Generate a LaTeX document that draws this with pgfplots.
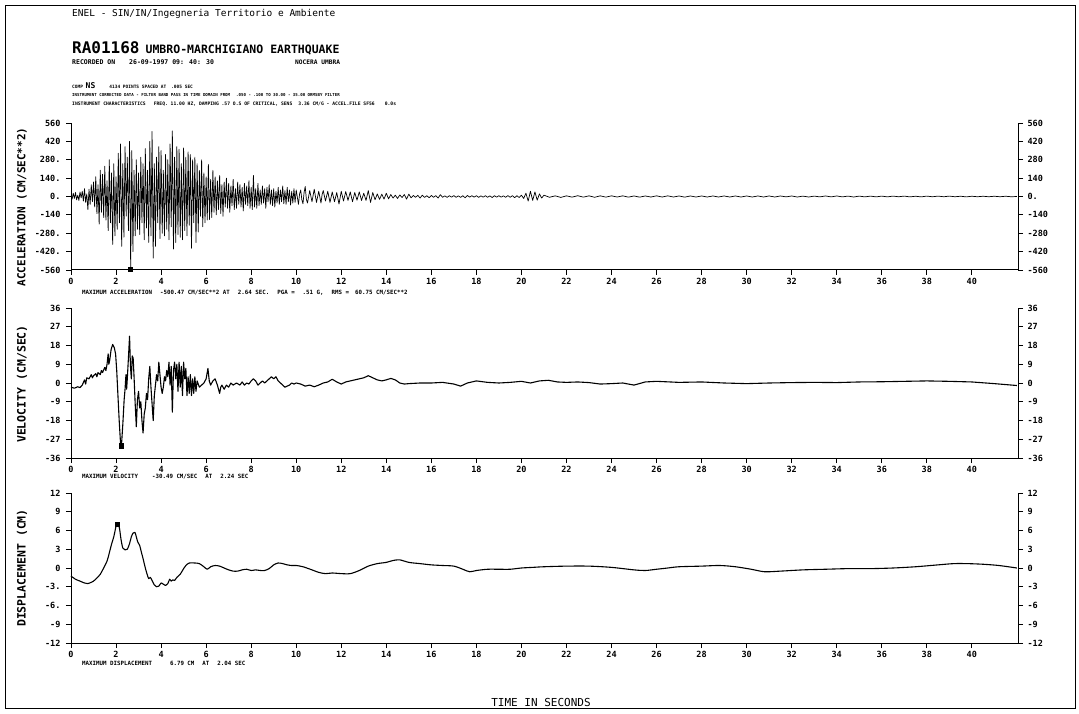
\documentclass[border=0pt]{standalone}
\usepackage{fontspec}
\setmainfont{DejaVu Sans Mono}
\usepackage{pgfplots}
\pgfplotsset{compat=1.18}
\newcommand{\gap}[1]{\hspace*{#1}}
\pgfplotsset{
  base/.style={scale only axis, width=947pt, xmin=0, xmax=42.05, clip=false,
    tick align=outside, major tick length=5pt,
    every tick/.style={black, line width=0.8pt},
    axis line style={black, line width=1pt},
    tick label style={font=\bfseries\fontsize{8.5}{9}\selectfont},
  },
  leftax/.style={base, axis x line*=bottom, axis y line*=left,
    xtick={0,2,...,40},
    xticklabels={0,2,4,6,8,10,12,14,16,18,20,22,24,26,28,30,32,34,36,38,40},
    yticklabel style={xshift=-2pt},
  },
  rightax/.style={base, axis y line*=right, axis x line=none, xtick=\empty,
    yticklabel style={xshift=1pt},
  },
  trace/.style={black, line width=1.1pt, line join=round},
}
\begin{document}
\begin{tikzpicture}
\path (0pt,0pt) rectangle (1079pt,713pt);
\draw[line width=1pt] (5pt,5pt) rectangle (1075pt,707pt);

% ---------- header ----------
\node[anchor=west, inner sep=0pt, font=\fontsize{9.5}{10}\selectfont] at (72pt,699pt) {ENEL - SIN/IN/Ingegneria Territorio e Ambiente};
\node[anchor=base west, inner sep=0pt] at (72pt,659pt) {{\bfseries\fontsize{16}{17}\selectfont RA01168} {\bfseries\fontsize{11.5}{12}\selectfont UMBRO-MARCHIGIANO EARTHQUAKE}};
\node[anchor=west, inner sep=0pt, font=\bfseries\fontsize{6.5}{7}\selectfont] at (72pt,651pt) {RECORDED ON\gap{14pt}26-09-1997 09: 40: 30};
\node[anchor=west, inner sep=0pt, font=\bfseries\fontsize{6.2}{7}\selectfont] at (295pt,651pt) {NOCERA UMBRA};
\node[anchor=west, inner sep=0pt, font=\bfseries\fontsize{4.5}{5}\selectfont] at (72pt,627pt) {COMP {\fontsize{8}{8}\selectfont NS}\gap{14pt}4134 POINTS SPACED AT\gap{5pt}.005 SEC};
\node[anchor=west, inner sep=0pt, font=\bfseries\fontsize{4.1}{5}\selectfont] at (72pt,618pt) {INSTRUMENT CORRECTED DATA - FILTER BAND PASS IN TIME DOMAIN FROM\gap{6pt}.050 - .100 TO 30.00 - 35.00 ORMSBY FILTER};
\node[anchor=west, inner sep=0pt, font=\bfseries\fontsize{4.7}{5}\selectfont] at (72pt,609pt) {INSTRUMENT CHARACTERISTICS\gap{8pt}FREQ. 11.00 HZ, DAMPING .57 O.S OF CRITICAL, SENS\gap{6pt}3.36 CM/G - ACCEL.FILE SF56\gap{10pt}0.0s};

% ---------- y labels ----------
\node[rotate=90, font=\bfseries\fontsize{11}{12}\selectfont] at (22pt,506pt) {ACCELERATION (CM/SEC**2)};
\node[rotate=90, font=\bfseries\fontsize{11.5}{12}\selectfont] at (22pt,329pt) {VELOCITY (CM/SEC)};
\node[rotate=90, font=\bfseries\fontsize{11.5}{12}\selectfont] at (22pt,145pt) {DISPLACEMENT (CM)};

% ---------- notes ----------
\node[anchor=west, inner sep=0pt, font=\bfseries\fontsize{5.8}{6}\selectfont] at (82pt,420pt) {MAXIMUM ACCELERATION\gap{8pt}-500.47 CM/SEC**2 AT\gap{8pt}2.64 SEC.\gap{8pt}PGA =\gap{8pt}.51 G,\gap{8pt}RMS =\gap{6pt}60.75 CM/SEC**2};
\node[anchor=west, inner sep=0pt, font=\bfseries\fontsize{5.8}{6}\selectfont] at (82pt,236pt) {MAXIMUM VELOCITY\gap{14pt}-30.49 CM/SEC\gap{8pt}AT\gap{8pt}2.24 SEC};
\node[anchor=west, inner sep=0pt, font=\bfseries\fontsize{5.8}{6}\selectfont] at (82pt,50pt) {MAXIMUM DISPLACEMENT\gap{18pt}6.79 CM\gap{8pt}AT\gap{8pt}2.04 SEC};
\node[font=\fontsize{11}{12}\selectfont] at (541pt,11pt) {TIME IN SECONDS};

% ---------- acceleration ----------
\begin{axis}[leftax, at={(71pt,443pt)}, anchor=south west, height=147pt,
  ymin=-560, ymax=560, ytick={-560,-420,-280,-140,0,140,280,420,560},
  yticklabels={-560,-420.,-280.,-140,0.,140.,280.,420,560}]
\addplot[trace, line width=0.7pt] coordinates {
(0,5)(0.05,-20)(0.1,25)(0.15,-15)(0.2,30)(0.25,-25)(0.3,10)(0.35,-30)(0.4,35)(0.45,-10)
(0.5,40)(0.55,-35)(0.6,60)(0.65,-45)(0.7,20)(0.75,-100)(0.8,55)(0.85,-60)(0.9,90)(0.95,-40)
(1,110)(1.05,-80)(1.1,150)(1.15,-130)(1.2,90)(1.25,-210)(1.3,200)(1.35,-120)(1.4,170)(1.45,-160)
(1.5,230)(1.55,-180)(1.6,120)(1.65,-260)(1.7,280)(1.75,-200)(1.8,180)(1.85,-365)(1.9,250)(1.95,-300)
(2,150)(2.05,-250)(2.1,330)(2.15,-200)(2.2,400)(2.25,-380)(2.3,250)(2.35,-310)(2.4,380)(2.45,-150)
(2.5,300)(2.55,-260)(2.6,420)(2.65,-550)(2.7,350)(2.75,-420)(2.8,200)(2.85,-300)(2.9,280)(2.95,-250)
(3,180)(3.05,-290)(3.1,300)(3.15,-200)(3.2,250)(3.25,-330)(3.3,365)(3.35,-240)(3.4,200)(3.45,-350)
(3.5,420)(3.55,-300)(3.6,495)(3.65,-470)(3.7,250)(3.75,-380)(3.8,300)(3.85,-200)(3.9,380)(3.95,-320)
(4,350)(4.05,-280)(4.1,200)(4.15,-300)(4.2,320)(4.25,-250)(4.3,280)(4.35,-330)(4.4,400)(4.45,-230)
(4.5,500)(4.55,-400)(4.6,300)(4.65,-350)(4.7,380)(4.75,-290)(4.8,360)(4.85,-310)(4.9,250)(4.95,-330)
(5,370)(5.05,-260)(5.1,300)(5.15,-300)(5.2,340)(5.25,-220)(5.3,320)(5.35,-395)(5.4,280)(5.45,-200)
(5.5,300)(5.55,-350)(5.6,250)(5.65,-270)(5.7,200)(5.75,-150)(5.8,280)(5.85,-230)(5.9,180)(5.95,-200)
(6,150)(6.05,-180)(6.1,245)(6.15,-175)(6.2,130)(6.25,-160)(6.3,200)(6.35,-120)(6.4,150)(6.45,-140)
(6.5,120)(6.55,-100)(6.6,160)(6.65,-130)(6.7,90)(6.75,-150)(6.8,110)(6.85,-80)(6.9,140)(6.95,-90)
(7,100)(7.05,-120)(7.1,80)(7.15,-70)(7.2,130)(7.25,-100)(7.3,60)(7.35,-90)(7.4,110)(7.45,-60)
(7.5,90)(7.55,-80)(7.6,70)(7.65,-110)(7.7,100)(7.75,-60)(7.8,80)(7.85,-70)(7.9,120)(7.95,-90)
(8,70)(8.05,-100)(8.1,160)(8.15,-80)(8.2,60)(8.25,-90)(8.3,100)(8.35,-70)(8.4,50)(8.45,-60)
(8.5,80)(8.55,-50)(8.6,60)(8.65,-90)(8.7,70)(8.75,-40)(8.8,90)(8.85,-60)(8.9,50)(8.95,-70)
(9,60)(9.05,-80)(9.1,40)(9.15,-50)(9.2,70)(9.25,-60)(9.3,50)(9.35,-40)(9.4,80)(9.45,-55)
(9.5,45)(9.55,-60)(9.6,70)(9.65,-40)(9.7,50)(9.75,-65)(9.8,40)(9.85,-50)(9.9,60)(9.95,-45)
(10,50)
(10.1,-60)(10.15,20)(10.2,50)(10.25,-25)(10.3,-55)(10.35,30)(10.4,76)(10.45,-20)(10.5,-50)(10.6,45)(10.7,-40)(10.8,55)(10.9,-45)(11,40)
(11.1,-50)(11.15,15)(11.2,45)(11.3,-35)(11.4,40)(11.5,-45)(11.6,35)(11.7,-40)(11.8,30)(11.9,-58)(12,40)
(12.1,-35)(12.2,38)(12.3,-30)(12.4,35)(12.5,-40)(12.6,30)(12.7,-28)(12.8,35)(12.9,-30)(13,25)
(13.1,-30)(13.2,45)(13.3,-45)(13.4,30)(13.5,-25)(13.6,20)(13.7,-22)(13.8,18)(13.9,-20)(14,25)
(14.1,-18)(14.2,15)(14.3,-12)(14.4,10)(14.5,-15)(14.6,12)(14.7,-8)(14.8,15)(14.9,-20)(15,18)
(15.1,-10)(15.2,8)(15.3,-6)(15.4,9)(15.5,-12)(15.6,10)(15.7,-7)(15.8,6)(15.9,-9)(16,8)
(16.1,-6)(16.2,7)(16.3,-12)(16.4,14)(16.5,-6)(16.6,5)(16.7,-7)(16.8,6)(16.9,-5)(17,7)
(17.1,-6)(17.2,5)(17.3,-7)(17.4,6)(17.5,-10)(17.6,8)(17.7,-5)(17.8,6)(17.9,-5)(18,6)
(18.1,-7)(18.2,5)(18.3,-5)(18.4,6)(18.5,-6)(18.6,5)(18.7,-8)(18.8,6)(18.9,-5)(19,6)
(19.1,-5)(19.2,5)(19.3,-6)(19.4,7)(19.5,-6)(19.6,6)(19.7,-9)(19.8,6)(19.9,-8)(20,10)
(20.1,-15)(20.2,25)(20.3,-35)(20.4,40)(20.5,-30)(20.6,35)(20.7,-28)(20.8,20)(20.9,-12)(21,10)
(21.25,-6)(21.5,5)(21.75,-7)(22,5)(22.25,-5)(22.5,6)(22.75,-5)(23,5)(23.25,-6)(23.5,5)
(23.75,-5)(24,5)(24.25,-4)(24.5,5)(24.75,-5)(25,4)(25.25,-5)(25.5,4)(25.75,-4)(26,5)
(26.25,-4)(26.5,5)(26.75,-4)(27,4)(27.25,-5)(27.5,4)(27.75,-4)(28,4)(28.25,-4)(28.5,4)
(28.75,-4)(29,4)(29.25,-4)(29.5,4)(29.75,-4)(30,4)(30.25,-4)(30.5,4)(30.75,-4)(31,4)
(31.25,-4)(31.5,4)(31.75,-3)(32,4)(32.25,-4)(32.5,3)(32.75,-4)(33,3)(33.25,-3)(33.5,4)
(33.75,-3)(34,4)(34.25,-3)(34.5,3)(34.75,-4)(35,3)(35.25,-3)(35.5,3)(35.75,-3)(36,3)
(36.25,-3)(36.5,3)(36.75,-2)(37,3)(37.25,-3)(37.5,2)(37.75,-3)(38,3)(38.25,-2)(38.5,3)
(38.75,-2)(39,3)(39.25,-2)(39.5,2)(39.75,-3)(40,2)(40.25,-2)(40.5,2)(40.75,-2)(41,2)
(41.25,-2)(41.5,2)(41.75,-2)(42,0)
};
\addplot[only marks, mark=square*, mark size=2.2pt] coordinates {(2.64,-552)};
\end{axis}
\begin{axis}[rightax, at={(71pt,443pt)}, anchor=south west, height=147pt,
  ymin=-560, ymax=560, ytick={-560,-420,-280,-140,0,140,280,420,560},
  yticklabels={-560,-420,-280,-140,0.,140,280,420,560}]
\addplot[draw=none] coordinates {(0,0)};
\end{axis}

% ---------- velocity ----------
\begin{axis}[leftax, at={(71pt,255pt)}, anchor=south west, height=150pt,
  ymin=-36, ymax=36, ytick={-36,-27,-18,-9,0,9,18,27,36},
  yticklabels={-36,-27,-18,-9,0,9,18,27,36}]
\addplot[trace] coordinates {
(0,-2)(0.15,-2.5)(0.3,-1.8)(0.4,-2.2)(0.5,-1)(0.6,1.5)(0.65,-0.5)(0.7,2.5)(0.8,2)(0.9,4)(0.95,2.5)
(1,3.5)(1.1,4.5)(1.15,3)(1.2,5)(1.3,4)(1.35,6)(1.4,5)(1.5,7.5)(1.55,6)(1.6,9)(1.65,14)(1.68,9)
(1.72,11)(1.78,16)(1.85,18.5)(1.92,17)(1.98,14)(2.03,6)(2.08,-5)(2.14,-18)(2.2,-29)(2.24,-30)
(2.3,-20)(2.36,-8)(2.4,-3)(2.44,4)(2.47,-3)(2.5,2)(2.55,12)(2.6,22.5)(2.64,8)(2.68,2)(2.72,13)
(2.76,12)(2.8,3)(2.85,-10)(2.9,-21)(2.95,-8)(3,-4)(3.05,-12)(3.1,-9)(3.15,-18)(3.2,-24)(3.25,-15)
(3.3,-12)(3.35,-5)(3.4,-8)(3.45,2)(3.5,8)(3.55,-2)(3.6,-10)(3.65,-18)(3.7,-6)(3.75,-1)(3.8,4)
(3.85,1)(3.9,10)(3.95,4)(4,-2)(4.05,-5)(4.1,-2)(4.15,3)(4.2,1)(4.25,6)(4.3,3)(4.35,10)(4.4,-1)
(4.45,8)(4.5,-14)(4.55,6)(4.6,10)(4.65,2)(4.7,9)(4.75,-4)(4.8,10)(4.85,-2)(4.9,8)(4.95,-6)(5,10)
(5.05,2)(5.1,7)(5.15,-6)(5.2,3)(5.25,-5)(5.3,4)(5.35,-6)(5.4,2)(5.45,-5)(5.5,3)(5.55,-4)(5.6,1)
(5.7,-2)(5.8,-1)(5.9,0)(6,2)(6.08,7)(6.14,1)(6.2,-1)(6.3,1)(6.4,2)(6.5,-1)(6.6,-5)(6.65,-2)
(6.7,-1)(6.8,-3)(6.9,-1)(7,-2)(7.1,0)(7.2,-1)(7.35,0)(7.5,-1)(7.6,0.5)(7.7,-1)(7.8,0)(7.9,-0.5)
(8,1)(8.1,2)(8.2,1)(8.3,-1)(8.4,0)(8.5,1)(8.6,0)(8.7,1)(8.8,2)(8.9,3)(9,2)(9.1,3)(9.2,1)(9.3,0)
(9.4,-1)(9.5,-2)(9.6,-1.5)(9.7,-1)(9.8,0)(9.9,-0.5)(10,0)(10.2,-0.5)(10.4,-1.5)(10.6,-1)(10.8,-1.8)
(11,-1)(11.2,0)(11.4,0.5)(11.6,1.8)(11.8,0.5)(12,-0.5)(12.2,0.5)(12.4,1)(12.6,1.5)(12.8,2)(13,2.5)
(13.2,3.5)(13.4,2.5)(13.6,1.5)(13.8,1)(14,1.5)(14.2,2.2)(14.4,1.5)(14.6,0)(14.8,-0.5)(15,-0.3)
(15.5,0)(16,0)(16.5,0.3)(17,-0.5)(17.3,-1.5)(17.6,0)(18,1)(18.5,0.3)(19,0)(19.5,0.3)(20,0.8)
(20.4,0)(20.8,1)(21.2,1.3)(21.6,0.5)(22,0.3)(22.5,0.5)(23,0.2)(23.5,-0.5)(24,-0.3)(24.5,0)(25,-1)
(25.5,0.5)(26,0.8)(27,0.3)(28,0.5)(29,0)(30,-0.3)(31,0)(32,0.2)(33,0.3)(34,0.2)(35,0.5)(36,0.6)
(37,0.8)(38,1)(39,0.8)(40,0.5)(41,-0.3)(42,-1.2)
};
\addplot[only marks, mark=square*, mark size=2.2pt] coordinates {(2.24,-30)};
\end{axis}
\begin{axis}[rightax, at={(71pt,255pt)}, anchor=south west, height=150pt,
  ymin=-36, ymax=36, ytick={-36,-27,-18,-9,0,9,18,27,36},
  yticklabels={-36,-27,-18,-9,0,9,18,27,36}]
\addplot[draw=none] coordinates {(0,0)};
\end{axis}

% ---------- displacement ----------
\begin{axis}[leftax, at={(71pt,70pt)}, anchor=south west, height=150pt,
  ymin=-12, ymax=12, ytick={-12,-9,-6,-3,0,3,6,9,12},
  yticklabels={-12,-9,-6.,-3.,0,3,6,9,12}]
\addplot[trace, smooth] coordinates {
(0,-1.3)(0.2,-1.8)(0.4,-2.1)(0.6,-2.4)(0.75,-2.5)(0.9,-2.3)(1,-2.1)(1.15,-1.6)(1.3,-1)(1.45,0)
(1.6,1.1)(1.7,2.4)(1.8,3.8)(1.9,5)(1.97,6.2)(2.02,7)(2.06,6.8)(2.1,7.1)(2.16,6.2)(2.22,4.6)
(2.3,3.2)(2.4,2.9)(2.5,3)(2.6,3.9)(2.68,5)(2.76,5.6)(2.84,5.7)(2.9,5)(2.96,4.2)(3.05,3.6)
(3.12,2.6)(3.2,1.5)(3.3,0)(3.38,-1)(3.45,-1.7)(3.52,-1.5)(3.6,-2)(3.7,-2.7)(3.8,-3)(3.9,-2.9)
(4,-2.4)(4.1,-2.6)(4.2,-2.8)(4.3,-2.5)(4.38,-1.8)(4.45,-2.1)(4.52,-1.9)(4.6,-2)(4.7,-1.5)
(4.85,-1)(5,-0.1)(5.1,0.4)(5.25,0.8)(5.5,0.8)(5.7,0.7)(5.9,0.2)(6.05,-0.2)(6.2,0.2)(6.4,0.4)
(6.6,0.3)(6.8,0)(7,-0.3)(7.2,-0.5)(7.4,-0.5)(7.6,-0.3)(7.8,-0.2)(8,-0.4)(8.2,-0.3)(8.4,-0.4)
(8.6,-0.4)(8.8,-0.1)(9,0.5)(9.2,0.8)(9.4,0.7)(9.6,0.5)(9.8,0.4)(10,0.4)(10.3,0.2)(10.7,-0.3)
(11,-0.7)(11.3,-0.9)(11.6,-0.8)(12,-0.9)(12.4,-0.9)(12.8,-0.4)(13.2,0.3)(13.6,0.7)(14,0.9)
(14.3,1.2)(14.6,1.3)(15,0.9)(15.5,0.7)(16,0.5)(16.5,0.4)(17,0.3)(17.4,-0.2)(17.7,-0.6)(18,-0.4)
(18.5,-0.2)(19,-0.2)(19.5,-0.2)(20,0)(20.5,0.1)(21,0.2)(22,0.3)(23,0.3)(24,0.1)(25,-0.3)
(25.5,-0.4)(26,-0.2)(26.5,0)(27,0.2)(28,0.3)(28.8,0.4)(29.5,0.2)(30.2,-0.2)(30.8,-0.6)(31.5,-0.5)
(32.5,-0.3)(33.5,-0.2)(34.5,-0.1)(35.5,-0.1)(36.5,0)(37.5,0.2)(38.5,0.5)(39.2,0.7)(39.8,0.7)
(40.5,0.6)(41.2,0.4)(42,0)
};
\addplot[only marks, mark=square*, mark size=2.2pt] coordinates {(2.04,7)};
\end{axis}
\begin{axis}[rightax, at={(71pt,70pt)}, anchor=south west, height=150pt,
  ymin=-12, ymax=12, ytick={-12,-9,-6,-3,0,3,6,9,12},
  yticklabels={-12,-9,-6,-3,0,3,6,9,12}]
\addplot[draw=none] coordinates {(0,0)};
\end{axis}
\end{tikzpicture}
\end{document}
